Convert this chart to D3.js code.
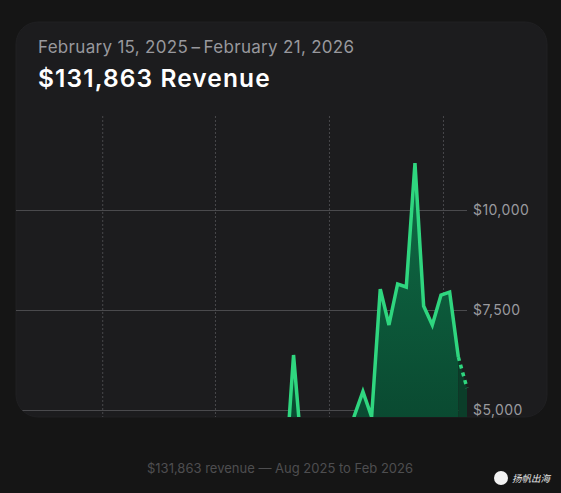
<!DOCTYPE html>
<html>
<head>
<meta charset="utf-8">
<script src="https://cdn.jsdelivr.net/npm/d3@7"></script>
<style>
  html, body { margin: 0; padding: 0; background: #151515; }
  svg { display: block; }
</style>
</head>
<body>
<div id="chart"></div>
<script>
// weekly revenue, first week starts 2025-01-21
const firstWeek = "2025-01-21";
const revenue = [
  0, 0, 0, 0, 0, 0, 0, 0, 0, 0,
  0, 0, 0, 0, 0, 0, 0, 0, 0, 0,
  0, 0, 0, 0, 0, 0, 0, 0,
  600, 1500, 2200, 3200, 6375, 3800, 2600, 3000, 2900, 3300,
  3900, 4850, 5460, 4830, 8020, 7125, 8150, 8075, 11175, 7600,
  7125, 7875, 7950, 6325, 5550
];
const yTicks = [5000, 7500, 10000];
const gridDates = ["2025-04-01", "2025-07-01", "2025-10-01", "2026-01-01"];
const dateRange = "February 15, 2025\u2009\u2013\u2009February 21, 2026";
const headline = "$131,863 Revenue";
const footnote = "$131,863 revenue \u2014 Aug 2025 to Feb 2026";

const W = 561, H = 493;
const card = {x: 16, y: 22, w: 531, h: 395, r: 22};

const parse = d3.utcParse("%Y-%m-%d");
const start = parse(firstWeek);
const data = revenue.map((v, i) => ({date: d3.utcDay.offset(start, 7 * i), value: v}));

const x = d3.scaleUtc()
    .domain(d3.extent(data, d => d.date))
    .range([16, 467]);

const y = d3.scaleLinear()
    .domain([5000, 10000])
    .range([410, 210]);

const svg = d3.select("#chart").append("svg")
    .attr("width", W)
    .attr("height", H)
    .attr("viewBox", [0, 0, W, H]);

const defs = svg.append("defs");
defs.append("clipPath").attr("id", "card-clip")
  .append("rect")
    .attr("x", card.x).attr("y", card.y)
    .attr("width", card.w).attr("height", card.h)
    .attr("rx", card.r);

const grad = defs.append("linearGradient")
    .attr("id", "fill")
    .attr("gradientUnits", "userSpaceOnUse")
    .attr("x1", 0).attr("x2", 0)
    .attr("y1", y(11000)).attr("y2", 417);
grad.append("stop").attr("offset", 0).attr("stop-color", "#0f6b45");
grad.append("stop").attr("offset", 1).attr("stop-color", "#0a4a31");

svg.append("rect")
    .attr("x", card.x).attr("y", card.y)
    .attr("width", card.w).attr("height", card.h)
    .attr("rx", card.r)
    .attr("fill", "#1c1c1e")
    .attr("stroke", "#202022");

const g = svg.append("g").attr("clip-path", "url(#card-clip)");

// vertical dashed grid
g.selectAll(".vgrid")
  .data(gridDates.map(parse))
  .join("line")
    .attr("class", "vgrid")
    .attr("x1", d => x(d)).attr("x2", d => x(d))
    .attr("y1", 116).attr("y2", 420)
    .attr("stroke", "#48484c")
    .attr("stroke-dasharray", "2,2");

// horizontal grid + labels
g.append("g")
    .attr("transform", "translate(467,0)")
    .call(d3.axisLeft(y).tickValues(yTicks).tickSize(451).tickFormat(""))
    .call(a => a.select(".domain").remove())
    .call(a => a.selectAll(".tick line").attr("stroke", "#4a4a4d"));

svg.append("g")
    .attr("transform", "translate(467,0)")
    .call(d3.axisRight(y).tickValues(yTicks).tickSize(0).tickPadding(6)
      .tickFormat(d => "$" + d3.format(",")(d)))
    .call(a => a.select(".domain").remove())
    .call(a => a.selectAll("text")
      .attr("fill", "#9a9a9e")
      .attr("font-family", "Inter, 'Noto Sans', sans-serif")
      .attr("font-size", 14)
      .attr("letter-spacing", 0.4));

const solid = data.slice(0, data.length - 1);
const tail = data.slice(data.length - 2);

const area = d3.area()
    .x(d => x(d.date))
    .y0(y(0))
    .y1(d => y(d.value));
const line = d3.line()
    .x(d => x(d.date))
    .y(d => y(d.value));

g.append("path")
    .datum(solid)
    .attr("d", area)
    .attr("fill", "url(#fill)");
g.append("path")
    .datum(tail)
    .attr("d", area)
    .attr("fill", "#0b3d29");

g.append("path")
    .datum(solid)
    .attr("d", line)
    .attr("fill", "none")
    .attr("stroke", "#2fd67f")
    .attr("stroke-width", 3.5);
g.append("path")
    .datum(tail)
    .attr("d", line)
    .attr("fill", "none")
    .attr("stroke", "#2fd67f")
    .attr("stroke-width", 3.5)
    .attr("stroke-dasharray", "4,4");

// header
svg.append("text")
    .attr("x", 38).attr("y", 53)
    .attr("fill", "#98989d")
    .attr("font-family", "Inter, 'Noto Sans', sans-serif")
    .attr("font-size", 17)
    .attr("letter-spacing", 0.3)
    .text(dateRange);
svg.append("text")
    .attr("x", 38).attr("y", 87)
    .attr("fill", "#ffffff")
    .attr("font-family", "Inter, 'Noto Sans', sans-serif")
    .attr("font-size", 24.5)
    .attr("font-weight", 600)
    .attr("letter-spacing", 1.1)
    .text(headline);

// footer
svg.append("text")
    .attr("x", 280).attr("y", 473)
    .attr("text-anchor", "middle")
    .attr("fill", "#4e4e50")
    .attr("font-family", "Inter, 'Noto Sans', sans-serif")
    .attr("font-size", 13)
    .text(footnote);

// watermark
svg.append("circle")
    .attr("cx", 501).attr("cy", 478).attr("r", 7)
    .attr("fill", "#f2f2f2");
svg.append("text")
    .attr("x", 512).attr("y", 482)
    .attr("fill", "#e8e8e8")
    .attr("font-family", "'Noto Sans CJK SC', sans-serif")
    .attr("font-size", 9.5)
    .attr("font-style", "italic")
    .text("扬帆出海");
</script>
</body>
</html>
